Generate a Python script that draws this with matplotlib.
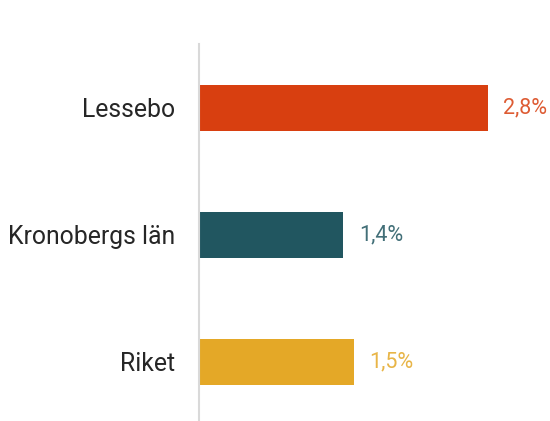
import matplotlib.pyplot as plt

categories = ["Lessebo", "Kronobergs län", "Riket"]
values = [2.8, 1.4, 1.5]
labels = ["2,8%", "1,4%", "1,5%"]
colors = ["#D83F10", "#215660", "#E4A827"]

plt.rcParams["font.family"] = ["Roboto", "DejaVu Sans"]

fig = plt.figure(figsize=(5.5, 4.21), dpi=100)
ax = fig.add_axes([199 / 550, 0, 1 - 199 / 550, 1 - 44 / 421])

pos = list(range(len(categories)))
ax.barh(pos, values, height=0.36, color=colors)
ax.set_xlim(0, 351 / 103.2)
ax.set_ylim(2.465, -0.504)

for p, v, lab, c in zip(pos, values, labels, colors):
    ax.annotate(lab, (v, p), xytext=(11, 0), textcoords="offset points",
                va="center", ha="left", fontsize=15.5, color=c, alpha=0.85)

ax.set_yticks(pos)
ax.set_yticklabels(categories, fontsize=17.8, color="#262626")
ax.tick_params(axis="y", length=0, pad=17)
ax.set_xticks([])
for s in ["top", "right", "bottom"]:
    ax.spines[s].set_visible(False)
ax.spines["left"].set_color("#D9D9D9")
ax.spines["left"].set_linewidth(1.5)

fig.savefig("out.png", dpi=100)
